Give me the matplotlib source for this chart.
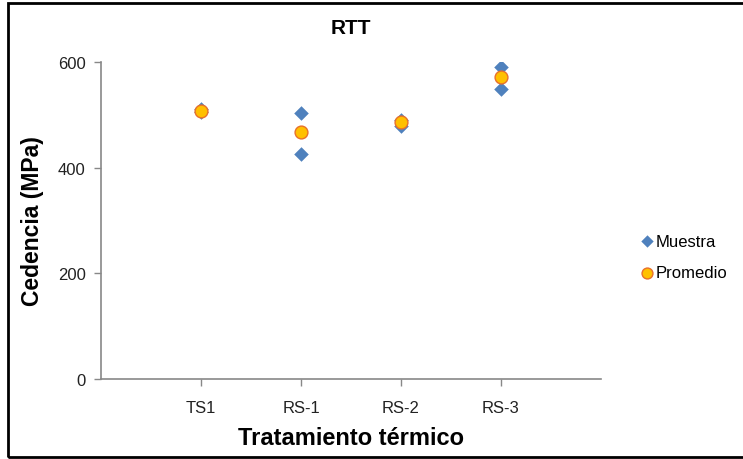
import matplotlib.pyplot as plt
from matplotlib.patches import Rectangle

plt.rcParams['font.family'] = ['Liberation Sans', 'DejaVu Sans']

# Datos
tratamientos = ['TS1', 'RS-1', 'RS-2', 'RS-3']
muestra_x = [1, 1, 2, 2, 3, 3, 4, 4]
muestra_y = [505, 511, 504, 425, 490, 478, 590, 548]
promedio_y = [508, 467, 486, 572]

fig = plt.figure(figsize=(7.43, 4.6), dpi=100)
ax = fig.add_axes([101/743, 1-380/460, 500/743, 317/460])

ax.scatter(muestra_x, muestra_y, marker='D', s=55, color='#4F81BD',
           linewidths=0, label='Muestra', zorder=3)
ax.scatter(range(1, 5), promedio_y, marker='o', s=85, color='#FFC000',
           edgecolors='#E8702A', linewidths=1, label='Promedio', zorder=4)

ax.set_xlim(0, 5)
ax.set_ylim(0, 600)
ax.set_yticks([0, 200, 400, 600])
ax.set_xticks(range(1, 5))
ax.set_xticklabels(tratamientos)
ax.tick_params(labelsize=12, colors='#888888', labelcolor='#222222', length=5, width=1)
ax.tick_params(axis='x', pad=10)
ax.tick_params(axis='y', pad=6)

for s in ['top', 'right']:
    ax.spines[s].set_visible(False)
for s in ['left', 'bottom']:
    ax.spines[s].set_color('#888888')
    ax.spines[s].set_linewidth(1.2)

ax.set_title('RTT', fontsize=15, fontweight='bold', pad=21)
ax.set_ylabel('Cedencia (MPa)', fontsize=16.5, fontweight='bold', labelpad=10)
ax.set_xlabel('Tratamiento térmico', fontsize=17, fontweight='bold', labelpad=8)

ax.legend(loc='center left', bbox_to_anchor=(1.05, 0.385), frameon=False,
          fontsize=12, handletextpad=-0.2, labelspacing=1.0, markerscale=0.85,
          borderpad=0, handlelength=1.5)

fig.patches.append(Rectangle((8/743, 2/460), 740/743, 454/460, transform=fig.transFigure,
                             fill=False, edgecolor='black', linewidth=2))

fig.savefig('out.png', dpi=100)
